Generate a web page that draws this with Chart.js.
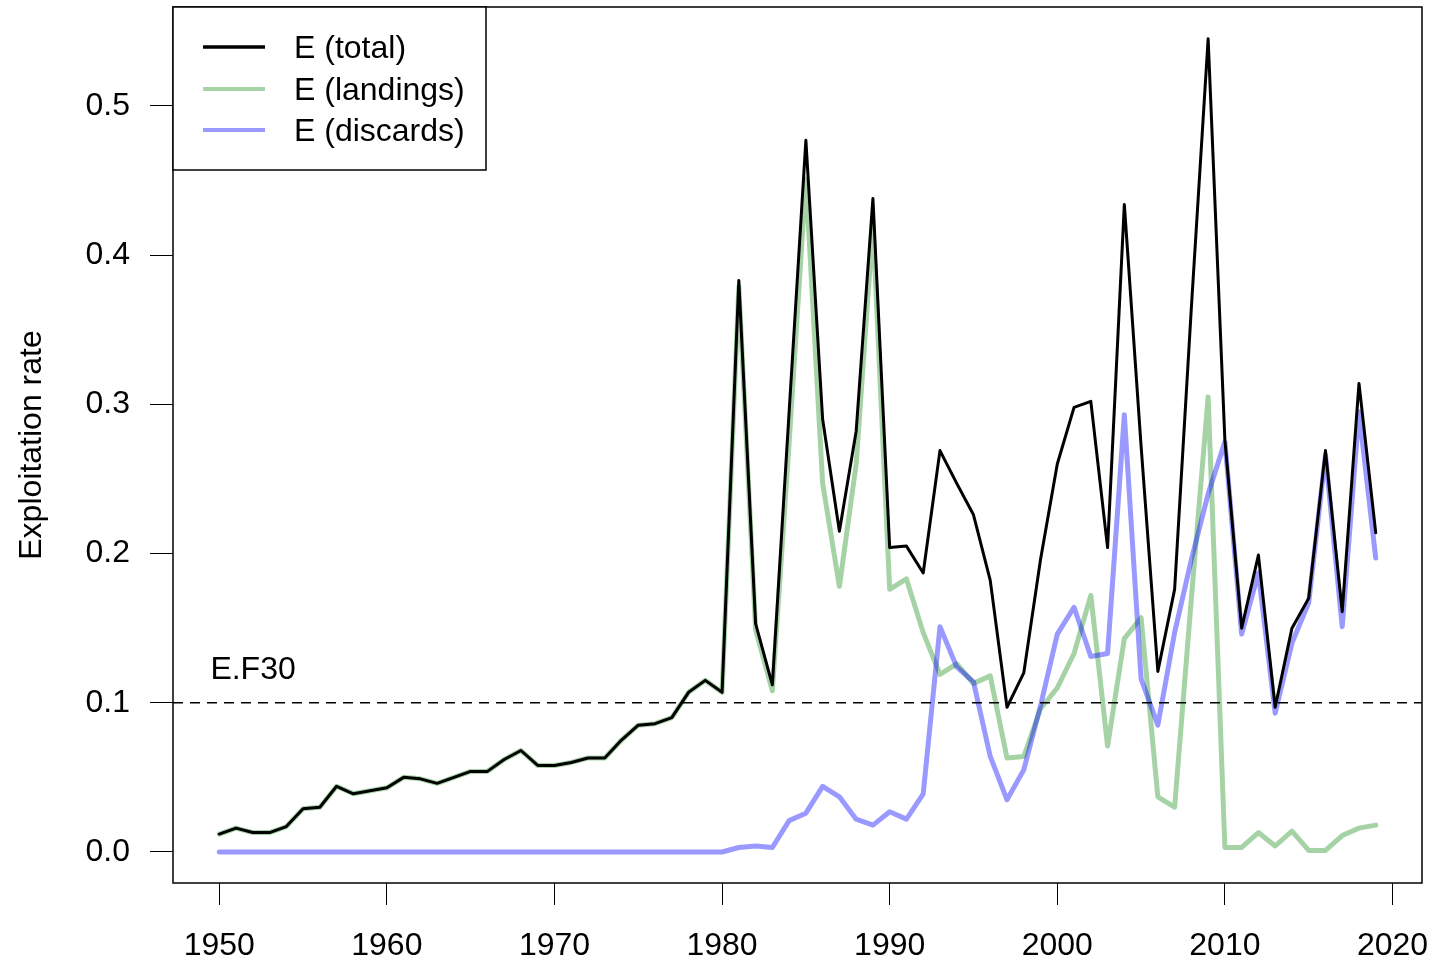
<!DOCTYPE html>
<html>
<head>
<meta charset="utf-8">
<script src="https://cdn.jsdelivr.net/npm/chart.js@4.4.1/dist/chart.umd.min.js"></script>
<style>
  html, body { margin: 0; padding: 0; background: #fff; }
</style>
</head>
<body>
<canvas id="myChart" width="1439" height="964"></canvas>
<script>
const years = [
  1950, 1951, 1952, 1953, 1954, 1955, 1956, 1957, 1958, 1959,
  1960, 1961, 1962, 1963, 1964, 1965, 1966, 1967, 1968, 1969,
  1970, 1971, 1972, 1973, 1974, 1975, 1976, 1977, 1978, 1979,
  1980, 1981, 1982, 1983, 1984, 1985, 1986, 1987, 1988, 1989,
  1990, 1991, 1992, 1993, 1994, 1995, 1996, 1997, 1998, 1999,
  2000, 2001, 2002, 2003, 2004, 2005, 2006, 2007, 2008, 2009,
  2010, 2011, 2012, 2013, 2014, 2015, 2016, 2017, 2018, 2019
];

const eTotal = [
  0.012, 0.016, 0.013, 0.013, 0.017, 0.029, 0.030, 0.044, 0.039, 0.041,
  0.043, 0.050, 0.049, 0.046, 0.050, 0.054, 0.054, 0.062, 0.068, 0.058,
  0.058, 0.060, 0.063, 0.063, 0.075, 0.085, 0.086, 0.090, 0.107, 0.115,
  0.107, 0.383, 0.153, 0.112, 0.295, 0.477, 0.290, 0.215, 0.282, 0.438,
  0.204, 0.205, 0.187, 0.269, 0.247, 0.226, 0.182, 0.097, 0.120, 0.196,
  0.260, 0.298, 0.302, 0.204, 0.434, 0.272, 0.121, 0.176, 0.365, 0.545,
  0.276, 0.150, 0.199, 0.097, 0.150, 0.170, 0.269, 0.161, 0.314, 0.214
];

const eLandings = [
  0.012, 0.016, 0.013, 0.013, 0.017, 0.029, 0.030, 0.044, 0.039, 0.041,
  0.043, 0.050, 0.049, 0.046, 0.050, 0.054, 0.054, 0.062, 0.068, 0.058,
  0.058, 0.060, 0.063, 0.063, 0.075, 0.085, 0.086, 0.090, 0.107, 0.115,
  0.107, 0.379, 0.149, 0.108, 0.274, 0.451, 0.247, 0.178, 0.260, 0.420,
  0.176, 0.183, 0.147, 0.119, 0.126, 0.113, 0.118, 0.063, 0.064, 0.096,
  0.110, 0.133, 0.172, 0.071, 0.143, 0.157, 0.037, 0.030, 0.170, 0.305,
  0.003, 0.003, 0.013, 0.004, 0.014, 0.001, 0.001, 0.011, 0.016, 0.018
];

const eDiscards = [
  0, 0, 0, 0, 0, 0, 0, 0, 0, 0,
  0, 0, 0, 0, 0, 0, 0, 0, 0, 0,
  0, 0, 0, 0, 0, 0, 0, 0, 0, 0,
  0, 0.003, 0.004, 0.003, 0.021, 0.026, 0.044, 0.037, 0.022, 0.018,
  0.027, 0.022, 0.039, 0.151, 0.124, 0.114, 0.064, 0.035, 0.055, 0.098,
  0.146, 0.164, 0.131, 0.133, 0.293, 0.116, 0.085, 0.147, 0.196, 0.240,
  0.275, 0.146, 0.187, 0.093, 0.140, 0.167, 0.266, 0.151, 0.295, 0.197
];

const xTicks = [1950, 1960, 1970, 1980, 1990, 2000, 2010, 2020];
const yTicks = [0, 0.1, 0.2, 0.3, 0.4, 0.5];
const refLevel = 0.1;
const refLabel = 'E.F30';

const FONT = '"Liberation Sans", Arial, sans-serif';
Chart.defaults.font.family = FONT;
Chart.defaults.color = '#000';

function points(values) {
  return years.map((yr, i) => ({ x: yr, y: values[i] }));
}

// R-style frame, reference line and legend box
const frame = {
  id: 'frame',
  afterDatasetsDraw(chart) {
    const ctx = chart.ctx;
    const ca = chart.chartArea;
    const xs = chart.scales.x;
    const ys = chart.scales.y;
    ctx.save();

    // dashed reference line
    const yRef = ys.getPixelForValue(refLevel);
    ctx.strokeStyle = '#000';
    ctx.lineWidth = 1.5;
    ctx.setLineDash([10, 7]);
    ctx.beginPath();
    ctx.moveTo(ca.left, yRef);
    ctx.lineTo(ca.right, yRef);
    ctx.stroke();
    ctx.setLineDash([]);

    ctx.font = '32px ' + FONT;
    ctx.fillStyle = '#000';
    ctx.textAlign = 'left';
    ctx.textBaseline = 'middle';
    ctx.fillText(refLabel, xs.getPixelForValue(1949.47), yRef - 33);

    // plot box
    ctx.lineWidth = 1.5;
    ctx.strokeRect(ca.left, ca.top, ca.right - ca.left, ca.bottom - ca.top);

    // legend
    const lx = ca.left, ly = ca.top;
    ctx.fillStyle = '#fff';
    ctx.fillRect(lx, ly, 313, 163);
    ctx.strokeRect(lx, ly, 313, 163);
    const order = [0, 2, 1];
    const rows = [40, 82, 123];
    order.forEach((di, r) => {
      const ds = chart.data.datasets[di];
      ctx.strokeStyle = ds.borderColor;
      ctx.lineWidth = di === 0 ? 3.5 : 4;
      ctx.beginPath();
      ctx.moveTo(lx + 30, ly + rows[r]);
      ctx.lineTo(lx + 92, ly + rows[r]);
      ctx.stroke();
      ctx.fillStyle = '#000';
      ctx.fillText(ds.label, lx + 121, ly + rows[r] + 2);
    });
    ctx.restore();
  }
};

const config = {
  type: 'line',
  data: {
    datasets: [
      {
        label: 'E (total)',
        data: points(eTotal),
        borderColor: '#000',
        borderWidth: 3,
      },
      {
        label: 'E (discards)',
        data: points(eDiscards),
        borderColor: 'rgba(0, 0, 255, 0.4)',
        borderWidth: 5,
      },
      {
        label: 'E (landings)',
        data: points(eLandings),
        borderColor: 'rgba(0, 128, 0, 0.35)',
        borderWidth: 5,
      },
    ],
  },
  options: {
    responsive: false,
    animation: false,
    devicePixelRatio: 1,
    layout: { padding: { top: 7, right: 17, left: 0, bottom: 0 } },
    elements: {
      point: { radius: 0 },
      line: { tension: 0, fill: false, borderJoinStyle: 'round', borderCapStyle: 'round' },
    },
    plugins: {
      legend: { display: false },
      tooltip: { enabled: false },
    },
    scales: {
      x: {
        type: 'linear',
        min: 1947.24,
        max: 2021.76,
        afterBuildTicks: (s) => { s.ticks = xTicks.map(v => ({ value: v })); },
        afterFit: (s) => { s.height = 81; s.paddingLeft = 0; s.paddingRight = 0; },
        border: { display: false },
        grid: { drawOnChartArea: false, drawTicks: true, tickLength: 22, color: '#000', lineWidth: 1 },
        ticks: {
          font: { size: 32 },
          color: '#000',
          padding: 22,
          maxRotation: 0,
          autoSkip: false,
          callback: (v) => String(v),
        },
      },
      y: {
        type: 'linear',
        min: -0.0208,
        max: 0.5663,
        afterBuildTicks: (s) => { s.ticks = yTicks.map(v => ({ value: v })); },
        afterFit: (s) => { s.width = 173; s.paddingTop = 0; s.paddingBottom = 0; },
        border: { display: false },
        grid: { drawOnChartArea: false, drawTicks: true, tickLength: 23, color: '#000', lineWidth: 1 },
        ticks: {
          font: { size: 32 },
          color: '#000',
          padding: 20,
          callback: (v) => v.toFixed(1),
        },
        title: {
          display: true,
          text: 'Exploitation rate',
          font: { size: 32 },
          color: '#000',
          padding: { top: 13, bottom: 0 },
        },
      },
    },
  },
  plugins: [frame],
};

var myChart = new Chart(document.getElementById('myChart'), config);
</script>
</body>
</html>
